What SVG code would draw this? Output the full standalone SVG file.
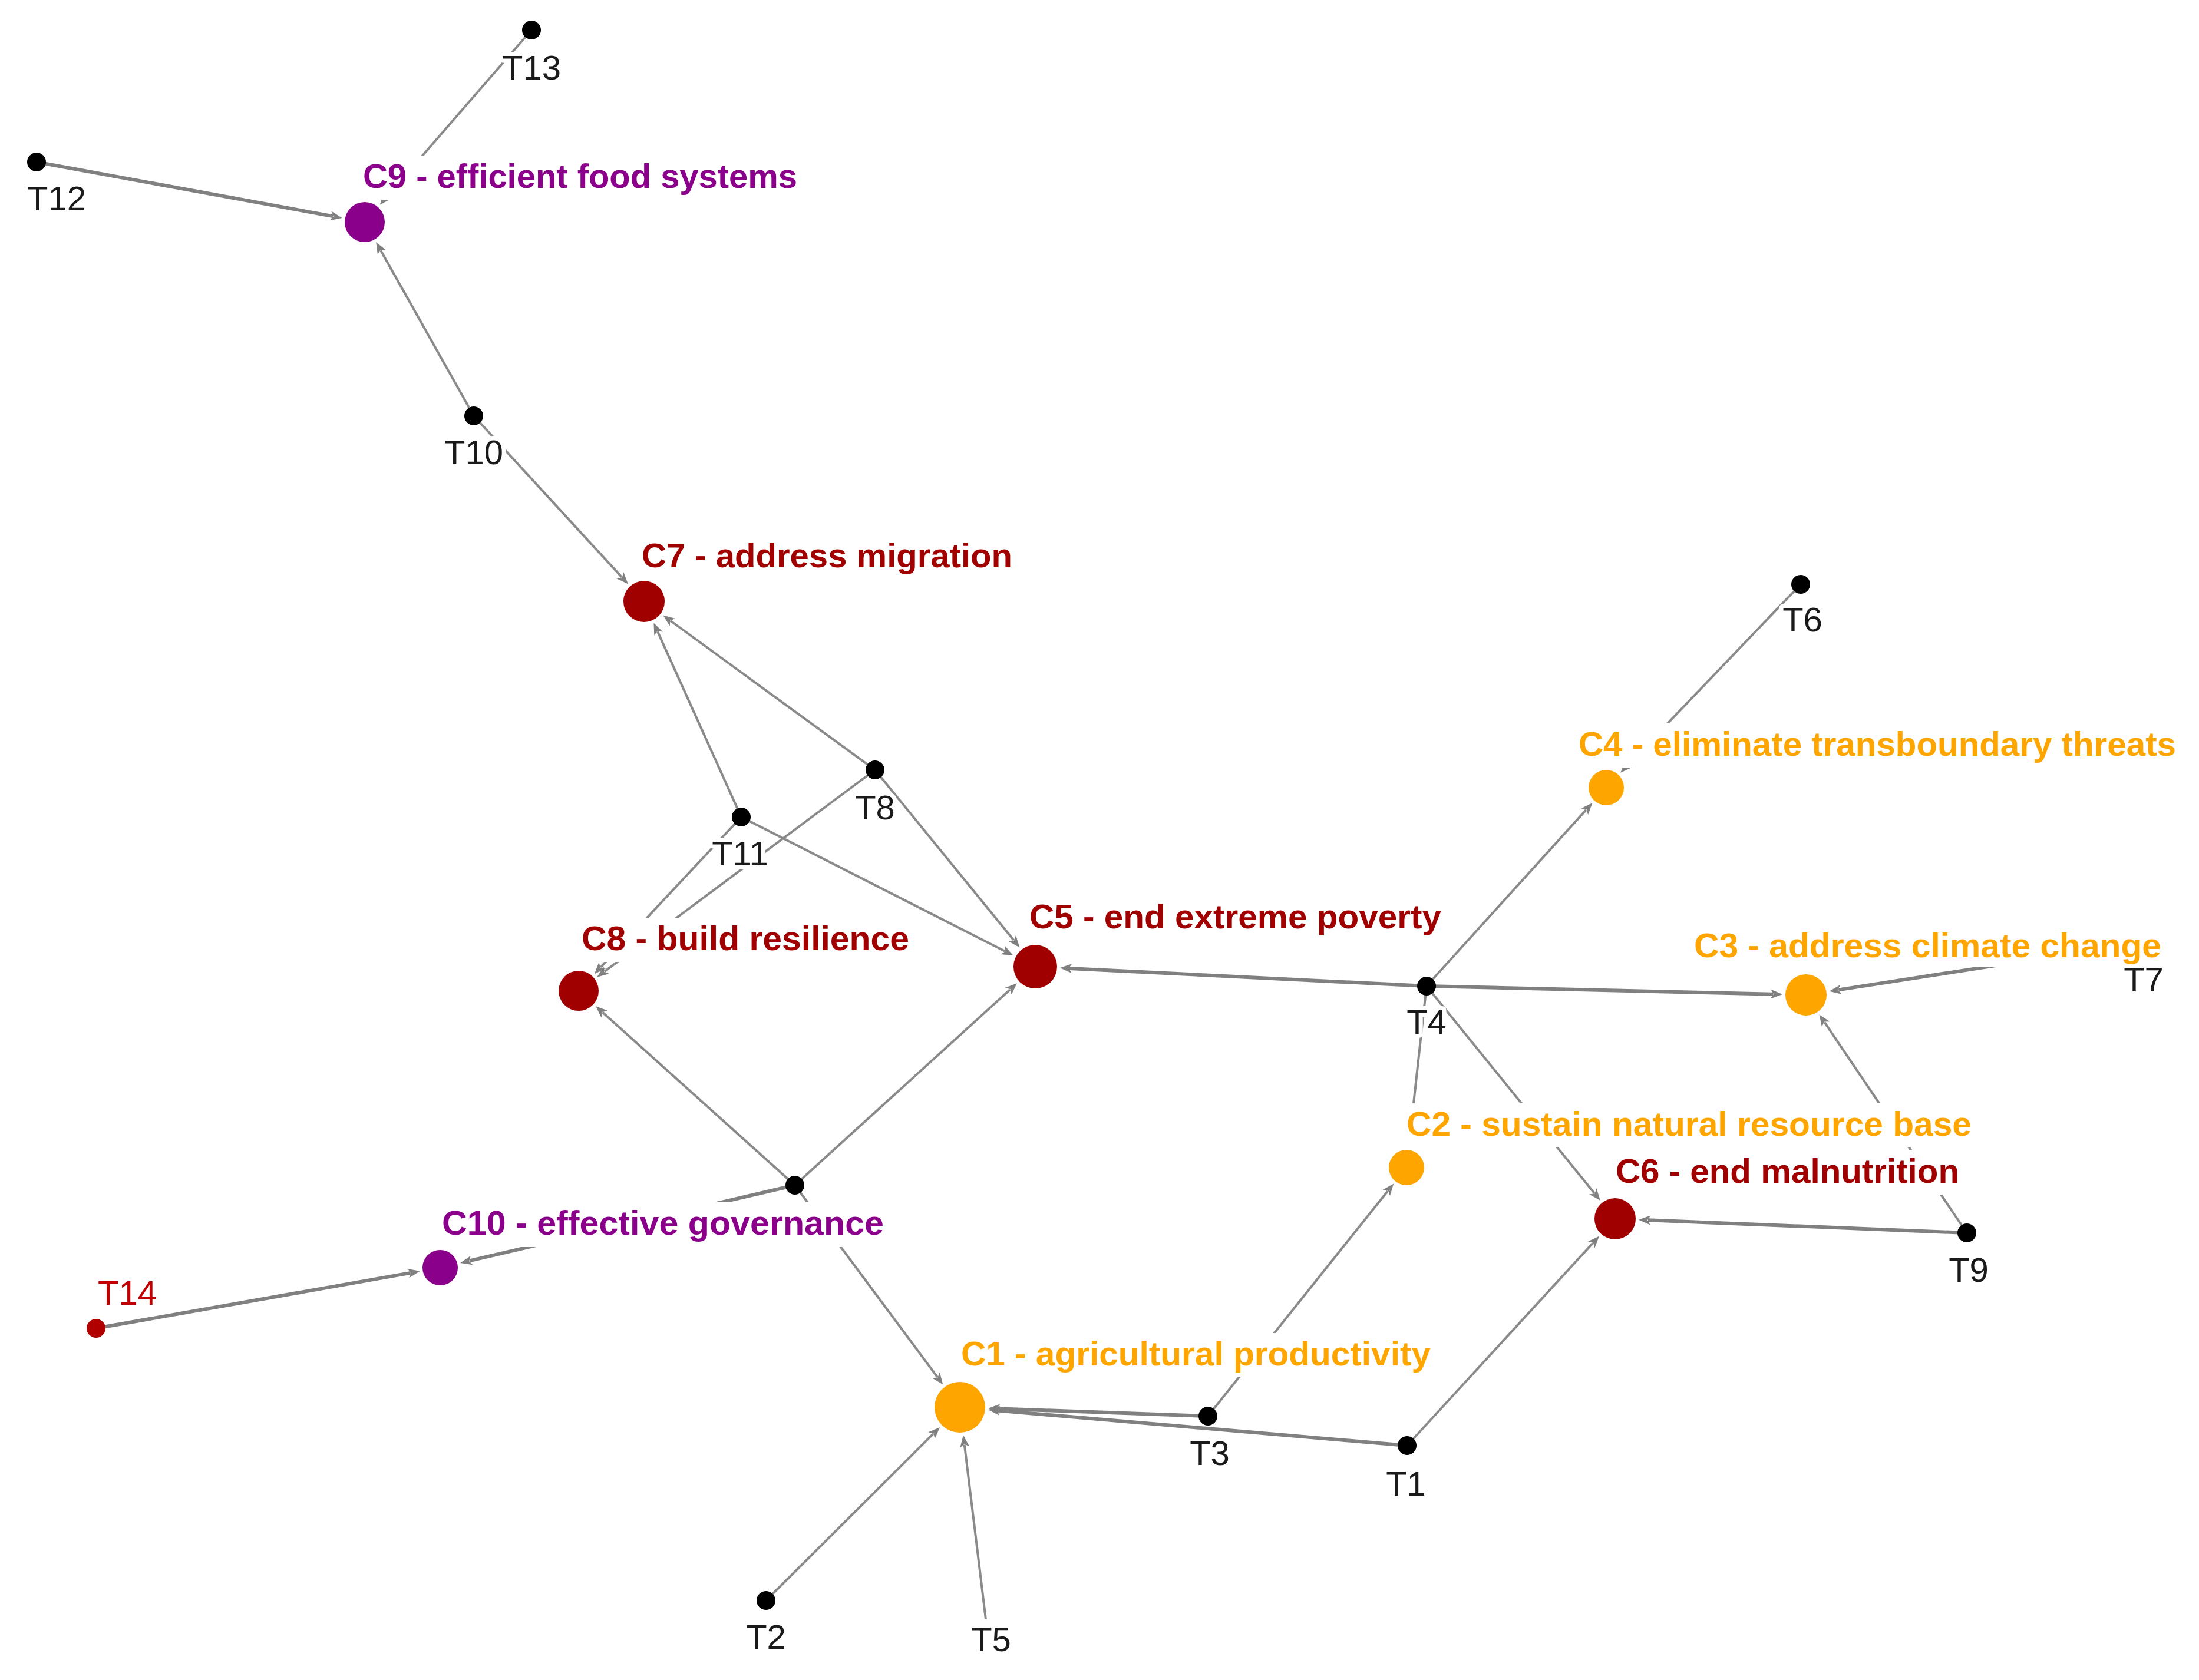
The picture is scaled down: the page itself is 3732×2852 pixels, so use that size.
<svg xmlns="http://www.w3.org/2000/svg" width="3732" height="2852" viewBox="0 0 3732 2852">
<defs>
<style>
.e{stroke:#8a8a8a;stroke-width:4;fill:none;marker-end:url(#arr)}
.w{stroke:#808080;stroke-width:6}
.dot{fill:#000}
.tl{font-family:"Liberation Sans",Arial,sans-serif;font-size:58px;fill:#1a1a1a;text-anchor:middle;stroke:#fff;stroke-width:14;stroke-linejoin:round;paint-order:stroke}
.cl{font-family:"Liberation Sans",Arial,sans-serif;font-size:58px;font-weight:bold}
.bg{fill:#fff}
.red{fill:#A00000}
.org{fill:#FFA500}
.pur{fill:#8B008B}
</style>
<marker id="arr" markerUnits="userSpaceOnUse" markerWidth="24" markerHeight="20" viewBox="0 -10 24 20" refX="4" refY="0" orient="auto">
<path d="M0,-8 L20,0 L0,8 L5,0 z" fill="#808080"/>
</marker>
</defs>
<rect width="3732" height="2852" fill="#fff"/>
<g id="edges">
<line class="e" x1="902" y1="51" x2="655.1" y2="335.5"/>
<line class="e w" x1="62" y1="275" x2="564.9" y2="367.1"/>
<line class="e" x1="804" y1="706" x2="646" y2="424.9"/>
<line class="e" x1="804" y1="706" x2="1055.1" y2="979.7"/>
<line class="e" x1="1258" y1="1387" x2="1116" y2="1072.1"/>
<line class="e" x1="1485" y1="1307" x2="1138.2" y2="1054"/>
<line class="e" x1="1258" y1="1387" x2="1705.3" y2="1614.7"/>
<line class="e" x1="1485" y1="1307" x2="1720.4" y2="1596"/>
<line class="e" x1="1258" y1="1387" x2="1019.6" y2="1641.8"/>
<line class="e" x1="1485" y1="1307" x2="1026.1" y2="1649.1"/>
<line class="e" x1="1349" y1="2012" x2="1022.9" y2="1718.8"/>
<line class="e" x1="1349" y1="2012" x2="1714.1" y2="1680"/>
<line class="e w" x1="1349" y1="2012" x2="796.7" y2="2140.4"/>
<line class="e" x1="1349" y1="2012" x2="1590.8" y2="2337.6"/>
<line class="e w" x1="163" y1="2255" x2="696.8" y2="2160.9"/>
<line class="e w" x1="2421" y1="1674" x2="1814.9" y2="1643.9"/>
<line class="e" x1="2421" y1="1674" x2="2691.8" y2="1374.8"/>
<line class="e w" x1="2421" y1="1674" x2="3009" y2="1687.7"/>
<line class="e" x1="2421" y1="1674" x2="2392.6" y2="1931.3"/>
<line class="e" x1="2421" y1="1674" x2="2705.8" y2="2025.5"/>
<line class="e" x1="3056" y1="992" x2="2761.3" y2="1300.1"/>
<line class="e w" x1="3638" y1="1600" x2="3120.3" y2="1680.4"/>
<line class="e" x1="3338" y1="2093" x2="3096.4" y2="1735.4"/>
<line class="e w" x1="3338" y1="2093" x2="2797" y2="2071.3"/>
<line class="e" x1="2050" y1="2404" x2="2355.2" y2="2021.9"/>
<line class="e w" x1="2050" y1="2404" x2="1693" y2="2391.3"/>
<line class="e w" x1="2388" y1="2454" x2="1692.8" y2="2394.5"/>
<line class="e" x1="2388" y1="2454" x2="2703.2" y2="2110.3"/>
<line class="e" x1="1300" y1="2717" x2="1583.7" y2="2434.2"/>
<line class="e" x1="1673" y1="2749" x2="1636.8" y2="2452.5"/>
</g>
<g id="T13"><circle class="dot" cx="902" cy="51" r="16"/><text class="tl" x="902" y="135">T13</text></g>
<g id="T12"><circle class="dot" cx="62" cy="275" r="16"/><text class="tl" x="96" y="357">T12</text></g>
<g id="T10"><circle class="dot" cx="804" cy="706" r="16"/><text class="tl" x="804" y="788">T10</text></g>
<g id="T8"><circle class="dot" cx="1485" cy="1307" r="16"/><text class="tl" x="1485" y="1391">T8</text></g>
<g id="T11"><circle class="dot" cx="1258" cy="1387" r="16"/><text class="tl" x="1256" y="1469">T11</text></g>
<g id="T6"><circle class="dot" cx="3056" cy="992" r="16"/><text class="tl" x="3059" y="1072">T6</text></g>
<g id="T7"><text class="tl" x="3638" y="1683">T7</text></g>
<g id="T4"><circle class="dot" cx="2421" cy="1674" r="16"/><text class="tl" x="2421" y="1755">T4</text></g>
<g id="T9"><circle class="dot" cx="3338" cy="2093" r="16"/><text class="tl" x="3341" y="2176">T9</text></g>
<g id="T3"><circle class="dot" cx="2050" cy="2404" r="16"/><text class="tl" x="2053" y="2487">T3</text></g>
<g id="T1"><circle class="dot" cx="2388" cy="2454" r="16"/><text class="tl" x="2386" y="2539">T1</text></g>
<g id="T2"><circle class="dot" cx="1300" cy="2717" r="16"/><text class="tl" x="1300" y="2799">T2</text></g>
<g id="T5"><text class="tl" x="1682" y="2803">T5</text></g>
<g id="T-unlabeled"><circle class="dot" cx="1349" cy="2012" r="16"/></g>
<g id="T14"><circle cx="163" cy="2255" r="16" fill="#B00000"/><text class="tl" x="216" y="2215" style="fill:#C00000">T14</text></g>
<g id="C9"><circle class="pur" cx="619" cy="377" r="34"/><rect class="bg" x="610" y="264" width="749" height="75"/><text class="cl pur" x="616" y="319" textLength="737" lengthAdjust="spacingAndGlyphs">C9 - efficient food systems</text></g>
<g id="C7"><circle class="red" cx="1093" cy="1021" r="35"/><rect class="bg" x="1083" y="908" width="641" height="75"/><text class="cl red" x="1089" y="963" textLength="629" lengthAdjust="spacingAndGlyphs">C7 - address migration</text></g>
<g id="C8"><circle class="red" cx="982" cy="1682" r="34"/><rect class="bg" x="981" y="1558" width="568" height="75"/><text class="cl red" x="987" y="1613" textLength="556" lengthAdjust="spacingAndGlyphs">C8 - build resilience</text></g>
<g id="C5"><circle class="red" cx="1757" cy="1641" r="37"/><rect class="bg" x="1741" y="1521" width="711" height="75"/><text class="cl red" x="1747" y="1576" textLength="699" lengthAdjust="spacingAndGlyphs">C5 - end extreme poverty</text></g>
<g id="C4"><circle class="org" cx="2726" cy="1337" r="30"/><rect class="bg" x="2673" y="1228" width="1026" height="75"/><text class="cl org" x="2679" y="1283" textLength="1014" lengthAdjust="spacingAndGlyphs">C4 - eliminate transboundary threats</text></g>
<g id="C3"><circle class="org" cx="3065" cy="1689" r="35"/><rect class="bg" x="2869" y="1570" width="805" height="72"/><text class="cl org" x="2875" y="1625" textLength="793" lengthAdjust="spacingAndGlyphs">C3 - address climate change</text></g>
<g id="C2"><circle class="org" cx="2387" cy="1982" r="30"/><rect class="bg" x="2381" y="1873" width="971" height="75"/><text class="cl org" x="2387" y="1928" textLength="959" lengthAdjust="spacingAndGlyphs">C2 - sustain natural resource base</text></g>
<g id="C6"><circle class="red" cx="2741" cy="2069" r="35"/><rect class="bg" x="2736" y="1953" width="595" height="75"/><text class="cl red" x="2742" y="2008" textLength="583" lengthAdjust="spacingAndGlyphs">C6 - end malnutrition</text></g>
<g id="C10"><circle class="pur" cx="747" cy="2152" r="30"/><rect class="bg" x="744" y="2041" width="762" height="76"/><text class="cl pur" x="750" y="2096" textLength="750" lengthAdjust="spacingAndGlyphs">C10 - effective governance</text></g>
<g id="C1"><circle class="org" cx="1629" cy="2389" r="43"/><rect class="bg" x="1625" y="2263" width="809" height="75"/><text class="cl org" x="1631" y="2318" textLength="797" lengthAdjust="spacingAndGlyphs">C1 - agricultural productivity</text></g>
</svg>
